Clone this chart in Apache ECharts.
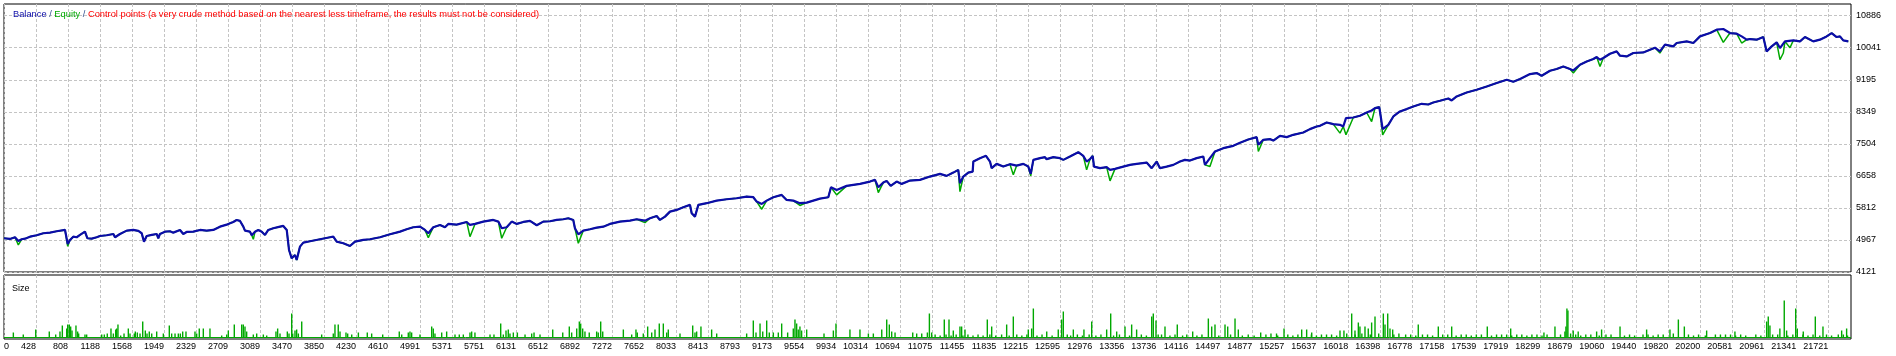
<!DOCTYPE html>
<html>
<head>
<meta charset="utf-8">
<style>
html,body{margin:0;padding:0;background:#fff;}
#chart{width:1896px;height:356px;}
</style>
<script src="https://cdn.jsdelivr.net/npm/echarts@6/dist/echarts.min.js"></script>
</head>
<body>
<div id="chart"></div>
<script>
// ---- axis ranges & tick labels ----
const X_MIN = 48, X_MAX = 21991;
const Y_MIN = 4121, Y_MAX = 11195;
const yTickLabels = [4121, 4967, 5812, 6658, 7504, 8349, 9195, 10041, 10886];
const xTickLabels = [0, 428, 808, 1188, 1568, 1949, 2329, 2709, 3089, 3470, 3850, 4230, 4610, 4991, 5371, 5751, 6131, 6512, 6892, 7272, 7652, 8033, 8413, 8793, 9173, 9554, 9934, 10314, 10694, 11075, 11455, 11835, 12215, 12595, 12976, 13356, 13736, 14116, 14497, 14877, 15257, 15637, 16018, 16398, 16778, 17158, 17539, 17919, 18299, 18679, 19060, 19440, 19820, 20200, 20581, 20961, 21341, 21721];

// ---- balance: [trade #, balance] ----
const balance = [
[48,5012],[119,4993],[179,5038],[218,4940],[258,4985],[298,5001],[357,5054],[436,5091],[515,5144],[594,5160],[674,5197],[773,5231],[796,5225],[805,4860],[832,4967],[871,5054],[912,5038],[951,5099],[1010,5186],[1038,5012],[1090,5001],[1149,5038],[1188,5072],[1268,5091],[1347,5125],[1367,5038],[1426,5125],[1506,5213],[1584,5231],[1644,5205],[1684,5144],[1711,4922],[1743,5072],[1803,5099],[1862,5125],[1881,5012],[1901,5125],[1961,5186],[2020,5197],[2059,5160],[2139,5231],[2178,5125],[2218,5178],[2297,5186],[2376,5231],[2456,5213],[2535,5231],[2614,5318],[2694,5371],[2733,5408],[2772,5442],[2812,5495],[2852,5469],[2891,5318],[2911,5213],[2970,5186],[2991,5091],[3030,5186],[3069,5231],[3110,5186],[3149,5099],[3188,5231],[3247,5276],[3327,5318],[3366,5337],[3407,5231],[3434,4702],[3466,4483],[3505,4570],[3525,4438],[3564,4790],[3604,4896],[3683,4932],[3802,4985],
[3921,5038],[3960,5054],[4001,4922],[4079,4880],[4158,4808],[4218,4922],[4317,4967],[4396,4985],[4515,5038],[4634,5117],[4753,5186],[4832,5249],[4910,5302],[4990,5318],[5049,5231],[5089,5144],[5148,5302],[5228,5363],[5287,5302],[5326,5390],[5426,5371],[5545,5442],[5584,5363],[5644,5390],[5742,5451],[5861,5495],[5921,5451],[5961,5276],[6020,5302],[6080,5451],[6139,5390],[6218,5442],[6297,5469],[6377,5355],[6455,5451],[6535,5460],[6614,5495],[6693,5514],[6752,5540],[6811,5495],[6831,5276],[6871,5117],[6930,5213],[7010,5249],[7089,5292],[7168,5318],[7247,5390],[7366,5451],[7485,5477],
[7565,5514],[7663,5477],[7723,5540],[7802,5601],[7841,5495],[7901,5583],[7960,5715],[8040,5760],[8118,5831],[8198,5892],[8218,5672],[8257,5583],[8297,5892],[8396,5937],[8515,6005],[8634,6042],[8752,6068],[8871,6111],[8950,6095],[8990,5979],[9050,5918],[9109,6005],[9188,6095],[9287,6156],[9346,6024],[9425,6005],[9504,5937],[9584,5952],[9663,6005],[9742,6058],[9841,6095],[9861,6095],[9873,6359],[9940,6288],[10059,6394],[10218,6447],[10336,6508],[10396,6553],[10435,6359],[10494,6481],[10534,6526],[10582,6394],[10653,6508],[10713,6447],[10811,6534],[10930,6553],[11049,6640],[11168,6710],
[11247,6658],[11326,6745],[11385,6817],[11405,6465],[11445,6640],[11504,6745],[11556,6772],[11564,7036],[11643,7126],[11714,7187],[11762,7036],[11782,6862],[11841,6975],[11920,6904],[11999,6967],[12079,6930],[12158,6975],[12217,6904],[12246,6711],[12277,7081],[12356,7126],[12415,7152],[12435,7099],[12514,7152],[12593,7126],[12633,7081],[12712,7169],[12811,7284],[12870,7187],[12910,7036],[12950,7099],[12982,7187],[12998,6904],[13069,6862],[13148,6888],[13188,6817],[13247,6843],[13346,6904],[13425,6949],[13505,6975],[13623,7010],[13683,6862],[13742,7036],[13781,6862],[13861,6904],[13940,6949],[14019,7036],[14078,7081],[14138,7063],[14217,7126],[14296,7169],[14316,6949],[14375,7126],[14435,7301],[14534,7390],[14652,7451],[14732,7530],[14830,7620],
[14930,7681],[14950,7478],[15009,7610],[15088,7628],[15128,7591],[15207,7715],[15287,7681],[15365,7742],[15484,7803],[15563,7892],[15643,7961],[15682,7980],[15762,8067],[15840,8025],[15920,8006],[15959,7961],[15991,8183],[16078,8199],[16157,8244],[16237,8331],[16296,8384],[16336,8448],[16387,8474],[16404,8226],[16427,7892],[16494,8006],[16554,8226],[16632,8358],[16712,8421],[16791,8490],[16890,8561],[16969,8543],[17028,8596],[17108,8641],[17207,8701],[17247,8649],[17306,8754],[17425,8860],[17544,8931],[17663,9019],[17782,9108],[17901,9195],[17979,9143],[18059,9214],[18177,9346],[18257,9372],[18316,9301],[18415,9433],
[18494,9478],[18573,9547],[18652,9478],[18692,9441],[18771,9592],[18851,9679],[18930,9743],[18970,9795],[19009,9724],[19048,9769],[19128,9882],[19207,9944],[19247,9830],[19326,9812],[19405,9901],[19524,9917],[19603,9988],[19662,10041],[19721,9944],[19781,10121],[19880,10076],[19920,10165],[20039,10208],[20118,10165],[20197,10340],[20316,10428],[20395,10517],[20474,10535],[20553,10428],[20633,10411],[20692,10340],[20752,10253],[20791,10270],[20870,10253],[20949,10323],[20989,9944],[21049,10076],[21108,10182],[21147,10032],[21206,10208],[21306,10235],[21385,10208],[21444,10323],[21543,10208],[21622,10253],[21701,10340],[21761,10428],[21820,10323],[21860,10340],[21899,10235],[21959,10208]
];

// ---- equity: points where equity drops below balance: [trade #, equity] ----
const equityDips = [
[218,4835],[805,4800],[3010,4985],[5089,5028],[5584,5054],[5961,5012],[6871,4880],[7663,5425],[9050,5778],[9504,5878],[9940,6156],[10435,6217],[11405,6243],[12039,6685],[12246,6658],[12910,6817],[13188,6526],[14375,6904],[14950,7301],[15920,7787],[15991,7742],[16296,8093],[16427,7742],[18692,9372],[19009,9547],[19721,9901],[20474,10182],[20692,10165],[21147,9724],[21187,9901],[21266,10041]
];

// ---- size (lots): [trade #, size] ----
const sizes = [
[159,.05],[277,.03],[425,.08],[586,.06],[662,.03],[713,.06],[741,.12],[793,.09],[805,.13],[824,.13],[840,.11],[856,.07],[903,.12],[923,.06],[935,.04],[1010,.03],[1030,.03],[1209,.03],[1240,.03],[1275,.04],[1319,.09],[1347,.04],[1375,.08],[1387,.09],[1402,.13],[1434,.02],[1474,.04],[1525,.09],[1545,.04],[1596,.04],[1608,.06],[1632,.05],[1664,.04],[1696,.16],[1727,.07],[1747,.04],[1774,.06],[1803,.04],[1862,.06],[1941,.04],[2012,.12],[2040,.04],[2080,.04],[2119,.04],[2143,.04],[2171,.06],[2210,.06],[2317,.06],[2337,.04],[2368,.09],[2416,.09],[2495,.09],[2634,.02],[2694,.03],[2713,.07],[2784,.13],[2872,.13],[2891,.13],[2911,.11],[2931,.06],[3010,.03],[3050,.04],[3129,.03],[3169,.02],[3279,.06],[3299,.09],[3327,.04],[3414,.06],[3434,.04],[3466,.24],[3478,.04],[3505,.07],[3525,.08],[3545,.04],[3585,.16],
[3822,.03],[3960,.04],[3980,.13],[4019,.13],[4040,.06],[4111,.05],[4131,.04],[4179,.03],[4258,.05],[4364,.05],[4416,.04],[4547,.03],[4744,.06],[4773,.03],[4851,.05],[4871,.06],[4891,.05],[4990,.03],[5129,.11],[5148,.09],[5168,.04],[5248,.05],[5307,.06],[5406,.03],[5457,.03],[5505,.03],[5584,.05],[5604,.06],[5643,.05],[5822,.03],[5869,.03],[5949,.14],[5980,.03],[6012,.07],[6039,.08],[6059,.04],[6099,.05],[6147,.05],[6238,.03],[6317,.04],[6345,.05],[6416,.03],[6567,.08],[6686,.05],[6764,.11],[6792,.05],[6852,.09],[6883,.16],[6899,.14],[6923,.09],[6950,.06],[7001,.05],[7089,.06],[7108,.05],[7137,.16],[7161,.06],[7406,.08],
[7505,.03],[7556,.08],[7572,.05],[7643,.04],[7695,.11],[7743,.05],[7782,.08],[7833,.14],[7881,.14],[7921,.05],[7940,.08],[8079,.04],[8230,.12],[8257,.05],[8277,.06],[8328,.11],[8455,.08],[8515,.04],[8871,.04],[8950,.17],[8982,.05],[9030,.14],[9062,.06],[9109,.17],[9140,.05],[9188,.05],[9247,.05],[9287,.14],[9358,.05],[9425,.09],[9445,.18],[9465,.14],[9484,.08],[9504,.11],[9524,.07],[9584,.08],[9790,.04],[9901,.07],[9932,.14],[10098,.08],[10217,.08],[10317,.04],[10376,.04],[10476,.08],[10535,.18],[10566,.13],[10594,.06],[10634,.05],[10844,.05],[10891,.04],[10951,.04],[11018,.05],[11042,.24],[11069,.05],
[11219,.18],[11275,.18],[11326,.07],[11405,.11],[11425,.11],[11465,.08],[11730,.18],[11782,.11],[11960,.13],[12039,.21],[12217,.08],[12257,.09],[12277,.29],[12436,.06],[12573,.08],[12613,.18],[12633,.26],[12752,.08],[12878,.08],[12970,.16],[13148,.08],[13196,.24],[13267,.06],[13366,.11],[13445,.13],[13504,.08],[13683,.21],[13702,.24],[13734,.17],[13841,.11],[13987,.13],[14170,.06],[14356,.19],[14396,.11],[14435,.13],[14554,.13],[14586,.11],[14673,.19],[14712,.08],
[14978,.05],[15166,.04],[15255,.09],[15465,.08],[15524,.08],[15584,.05],[15920,.07],[15967,.07],[16059,.24],[16098,.07],[16138,.15],[16157,.11],[16217,.11],[16256,.09],[16296,.15],[16336,.21],[16435,.24],[16455,.13],[16487,.24],[16514,.09],[16546,.08],[16850,.13],[17088,.11],[17247,.11],[17670,.11],[17948,.09],[18343,.05],[18474,.11],
[18592,.06],[18604,.11],[18616,.29],[18628,.27],[18691,.07],[18750,.06],[18969,.06],[19028,.08],[19247,.11],[19563,.08],[19840,.08],[19940,.18],[20011,.11],[20276,.07],[20612,.06],[20989,.16],[21008,.21],[21028,.12],[21146,.09],[21198,.37],[21226,.07],[21334,.29],[21353,.09],[21424,.06],[21567,.21],[21658,.11],[21880,.07],[21939,.09]
];
// small lots (dense band along the baseline)
const sizesSmall = [
[11110,.03],[11170,.02],[11240,.03],[11300,.02],[11360,.03],[11440,.02],[11500,.03],[11560,.02],[11620,.03],[11680,.02],[11760,.03],[11830,.02],[11900,.03],[11990,.02],[12080,.03],[12140,.02],[12200,.03],[12320,.02],[12380,.03],[12500,.02],[12680,.03],[12720,.02],[12800,.03],[12860,.02],[12940,.03],[13020,.02],[13080,.03],[13230,.02],[13300,.03],[13420,.02],[13560,.03],[13620,.02],[13760,.03],[13800,.03],[13900,.02],[13960,.03],[14050,.02],[14100,.03],[14220,.02],[14280,.03],[14480,.02],[14620,.03],[14760,.02],[14830,.03],[14900,.02],[15040,.03],[15100,.04],[15180,.02],[15300,.03],[15360,.02],[15420,.03],[15580,.03],[15640,.02],[15700,.03],[15760,.03],[15820,.03],[15880,.02],[16000,.04],[16100,.03],[16180,.04],[16280,.03],[16380,.04],[16560,.03],[16620,.04],[16700,.03],[16760,.03],[16820,.02],[16900,.03],[16960,.03],[17020,.02],[17140,.03],[17200,.03],[17300,.02],[17360,.03],[17420,.03],[17480,.02],[17540,.03],[17600,.03],[17720,.02],[17780,.03],[17840,.03],[17900,.03],[17960,.02],[18020,.03],[18080,.03],[18140,.02],[18200,.03],[18260,.03],[18320,.02],[18380,.03],[18540,.03],[18660,.04],[18720,.03],[18780,.02],[18840,.03],[18900,.03],[19000,.02],[19080,.03],[19140,.03],[19300,.02],[19360,.03],[19420,.02],[19520,.03],[19580,.03],[19640,.02],[19700,.03],[19760,.03],[19880,.04],[20060,.03],[20120,.02],[20180,.03],[20260,.02],[20380,.03],[20440,.03],[20500,.03],[20560,.03],[20620,.02],[20680,.03],[20740,.02],[20860,.03],[20920,.02],[21060,.03],[21120,.03],[21240,.02],[21300,.03],[21420,.03],[21480,.02],[21540,.03],[21620,.02],[21700,.03],[21760,.02],[21840,.03],[21900,.03],[21950,.02]
];

// ---- build series data ----
const eqMap = new Map(balance.map(p => [p[0], p[1]]));
equityDips.forEach(p => eqMap.set(p[0], p[1]));
const equity = Array.from(eqMap.entries()).sort((a, b) => a[0] - b[0]);
const sizeData = sizes.concat(sizesSmall).sort((a, b) => a[0] - b[0]);
const xTickVals = xTickLabels.map((v, i) => i === 0 ? X_MIN : v);

const BLUE = '#0c0ca8', GREEN = '#00a800', RED = '#ff0000', GRIDC = '#c4c4c4';
const FONT = 'Liberation Sans';

const chart = echarts.init(document.getElementById('chart'), null, {renderer: 'canvas'});
chart.setOption({
  animation: false,
  backgroundColor: '#ffffff',
  textStyle: {fontFamily: FONT},
  title: [{
    text: '{b|Balance}{s| / }{e|Equity}{s| / }{c|Control points (a very crude method based on the nearest less timeframe, the results must not be considered)}',
    left: 8, top: 5,
    textStyle: {fontFamily: FONT, fontSize: 9.3, fontWeight: 'normal', rich: {
      b: {color: BLUE, fontFamily: FONT, fontSize: 9.3, fontWeight: 'normal'},
      s: {color: '#2f4f8f', fontFamily: FONT, fontSize: 9.3, fontWeight: 'normal'},
      e: {color: GREEN, fontFamily: FONT, fontSize: 9.3, fontWeight: 'normal'},
      c: {color: RED, fontFamily: FONT, fontSize: 9.3, fontWeight: 'normal'}
    }}
  }, {
    text: 'Size', left: 7, top: 279,
    textStyle: {fontFamily: FONT, fontSize: 9, color: '#000', fontWeight: 'normal'}
  }],
  grid: [
    {left: 4, top: 4, width: 1847, height: 268, show: true, borderColor: '#000', borderWidth: 1, backgroundColor: '#fff'},
    {left: 4, top: 275, width: 1847, height: 64, show: true, borderColor: '#000', borderWidth: 1, backgroundColor: '#fff'}
  ],
  xAxis: [
    {gridIndex: 0, type: 'value', min: X_MIN, max: X_MAX,
      axisLine: {show: false}, axisLabel: {show: false},
      axisTick: {show: false, customValues: xTickVals},
      splitLine: {show: true, lineStyle: {color: GRIDC, type: [3, 2], width: 1}}},
    {gridIndex: 1, type: 'value', min: X_MIN, max: X_MAX, position: 'bottom',
      axisLine: {show: false, onZero: false},
      axisTick: {show: false, customValues: xTickVals},
      axisLabel: {show: true, customValues: xTickVals, color: '#000', fontFamily: FONT, fontSize: 9,
        margin: 3, align: 'right', alignMinLabel: 'left', hideOverlap: false,
        formatter: function (v) { const i = xTickVals.indexOf(v); return i >= 0 ? String(xTickLabels[i]) : ''; }},
      splitLine: {show: true, lineStyle: {color: GRIDC, type: [3, 2], width: 1}}}
  ],
  yAxis: [
    {gridIndex: 0, type: 'value', position: 'right', min: Y_MIN, max: Y_MAX,
      axisLine: {show: false},
      axisTick: {show: false, customValues: yTickLabels},
      axisLabel: {show: true, customValues: yTickLabels, color: '#000', fontFamily: FONT, fontSize: 9, margin: 5, align: 'left',
        formatter: function (v) { return String(v); }},
      splitLine: {show: true, lineStyle: {color: GRIDC, type: [3, 2], width: 1}}},
    {gridIndex: 1, type: 'value', min: -0.015, max: 0.625,
      axisLine: {show: false}, axisTick: {show: false}, axisLabel: {show: false}, splitLine: {show: false}}
  ],
  series: [
    {name: 'Equity', type: 'line', xAxisIndex: 0, yAxisIndex: 0, data: equity,
      showSymbol: false, symbol: 'none', lineStyle: {color: GREEN, width: 1.5}, itemStyle: {color: GREEN}, z: 2, silent: true},
    {name: 'Balance', type: 'line', xAxisIndex: 0, yAxisIndex: 0, data: balance,
      showSymbol: false, symbol: 'none', lineStyle: {color: BLUE, width: 2.2}, itemStyle: {color: BLUE}, z: 3, silent: true},
    {name: 'Size', type: 'bar', xAxisIndex: 1, yAxisIndex: 1, data: sizeData, barWidth: 1.4,
      itemStyle: {color: GREEN}, silent: true,
      markLine: {silent: true, symbol: 'none', label: {show: false},
        lineStyle: {color: GREEN, type: 'solid', width: 1}, data: [{yAxis: 0}]}}
  ]
});
</script>
</body>
</html>
